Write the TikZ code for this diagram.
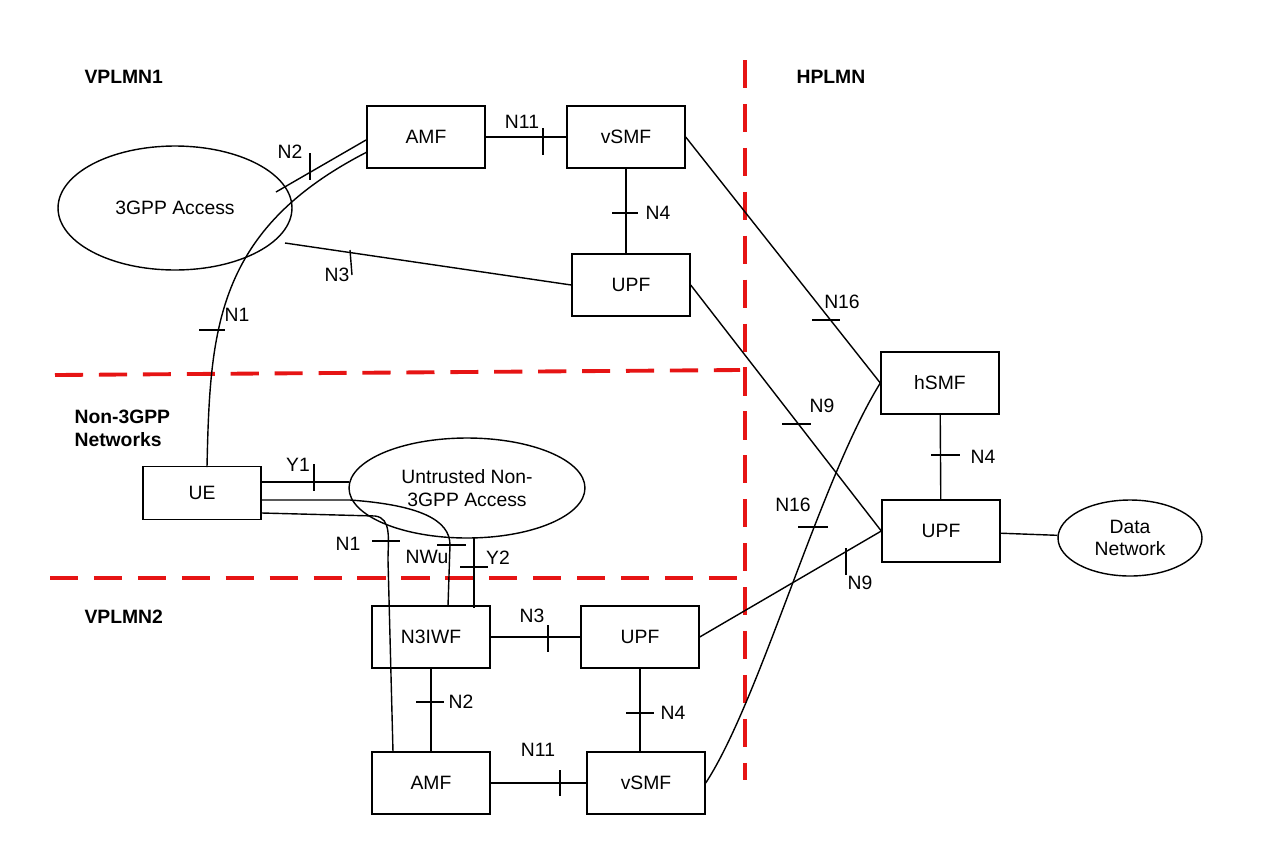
\documentclass[tikz,border=0pt]{standalone}
\usepackage{fontspec}
\setmainfont{Liberation Sans}
\usetikzlibrary{shapes.geometric}
\begin{document}
\begin{tikzpicture}[x=0.02cm,y=-0.02cm,line width=0.8pt,
  nf/.style={draw,minimum width=2.36cm,minimum height=1.24cm,font=\fontsize{11}{13}\selectfont},
  lbl/.style={font=\fontsize{11}{13}\selectfont},
  zone/.style={font=\bfseries\fontsize{11}{13}\selectfont,align=left},
  redline/.style={draw={rgb,255:red,230;green,20;blue,20},line width=2.2pt,dash pattern=on 16pt off 9pt}]
\useasboundingbox (0,0) rectangle (1268,843);
% boxes
\node[nf] (amf1) at (426,137) {AMF};
\node[nf] (vsmf1) at (626,137) {vSMF};
\node[nf] (upf1) at (631,285) {UPF};
\node[nf] (hsmf) at (940,383) {hSMF};
\node[nf] (upfh) at (941,531) {UPF};
\node[nf,minimum height=1.06cm] (ue) at (202,493) {UE};
\node[nf] (n3iwf) at (431,637) {N3IWF};
\node[nf] (upf2) at (640,637) {UPF};
\node[nf] (amf2) at (431,783) {AMF};
\node[nf] (vsmf2) at (646,783) {vSMF};
\node[draw,ellipse,minimum width=4.68cm,minimum height=2.48cm,lbl] (acc) at (175,208) {3GPP Access};
\node[draw,ellipse,minimum width=4.72cm,minimum height=2cm,lbl,align=center] (unt) at (467,488) {Untrusted Non-\\3GPP Access};
\node[draw,ellipse,minimum width=2.88cm,minimum height=1.52cm,lbl,align=center] (dn) at (1130,538) {Data\\Network};
% zones
\draw[redline] (55,375) -- (740,370);
\draw[redline] (50,578) -- (740,578);
\draw[redline] (745,60) -- (745,780);
\node[zone,anchor=west] (z1) at (78,77) {VPLMN1};
\node[zone,anchor=west] (z2) at (790,77) {HPLMN};
\node[zone,anchor=west] (z3) at (68,428) {Non-3GPP\\Networks};
\node[zone,anchor=west] (z4) at (78,617) {VPLMN2};
% connectors
\coordinate (a1) at (366,140); \coordinate (a2) at (367,152);
\coordinate (u1) at (207,467);
\draw (276,192) -- (a1);
\draw (u1) .. controls (210,330) and (215,230) .. (a2);
\draw (285,243) -- (upf1.west);
\draw (amf1) -- (vsmf1);
\draw (vsmf1.south) -- (vsmf1.south |- upf1.north);
\draw (vsmf1.east) -- (hsmf.west);
\draw (upf1.east) -- (upfh.west);
\draw (hsmf) -- (upfh);
\draw (upfh) -- (dn);
\draw (upf2.east) -- (upfh.west);
\draw (vsmf2.east) .. controls (760,700) and (820,480) .. (hsmf.west);
\draw (262,482) -- (349,482);
\draw (262,500) -- (350,500) .. controls (420,505) and (450,520) .. (450,545) -- (448,606);
\draw (262,513) -- (375,516) .. controls (392,518) and (388,540) .. (388,560) -- (393,752);
\draw (474,537) -- (474,608);
\draw (n3iwf) -- (upf2);
\draw (n3iwf) -- (amf2);
\draw (upf2.south) -- (upf2.south |- vsmf2.north);
\draw (amf2) -- (vsmf2);
% ticks and labels
\draw (310,153) -- (310,180); \node[lbl] (l1) at (290,152) {N2};
\draw (199,330) -- (225,330); \node[lbl] (l2) at (237,315) {N1};
\draw (350,250) -- (352,275); \node[lbl] (l3) at (337,275) {N3};
\draw (543,128) -- (543,155); \node[lbl] (l4) at (522,122) {N11};
\draw (612,213) -- (638,213); \node[lbl] (l5) at (658,213) {N4};
\draw (812,320) -- (840,320); \node[lbl] (l6) at (842,302) {N16};
\draw (782,424) -- (811,424); \node[lbl] (l7) at (822,406) {N9};
\draw (931,455) -- (960,455); \node[lbl] (l8) at (983,457) {N4};
\draw (846,548) -- (846,575); \node[lbl] (l9) at (860,583) {N9};
\draw (798,527) -- (828,527); \node[lbl] (l10) at (793,505) {N16};
\draw (314,464) -- (314,491); \node[lbl] (l11) at (298,465) {Y1};
\draw (437,545) -- (466,545); \node[lbl] (l12) at (427,557) {NWu};
\draw (372,541) -- (400,541); \node[lbl] (l13) at (348,544) {N1};
\draw (460,567) -- (488,567); \node[lbl] (l14) at (498,558) {Y2};
\draw (548,625) -- (548,652); \node[lbl] (l15) at (532,616) {N3};
\draw (416,702) -- (444,702); \node[lbl] (l16) at (461,702) {N2};
\draw (626,713) -- (654,713); \node[lbl] (l17) at (673,713) {N4};
\draw (560,770) -- (560,796); \node[lbl] (l18) at (538,750) {N11};
\end{tikzpicture}
\end{document}
